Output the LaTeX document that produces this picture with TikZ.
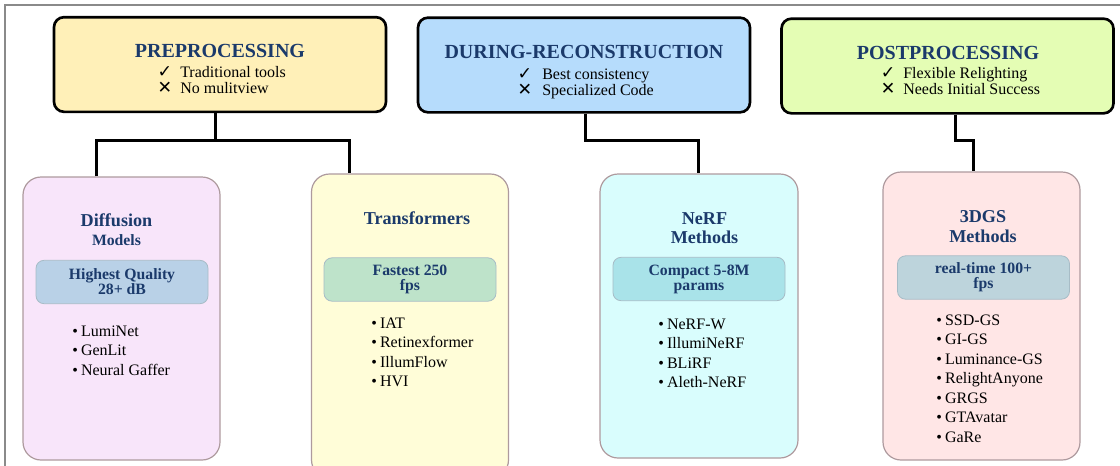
\documentclass[tikz,border=0pt]{standalone}
\usepackage{fontspec}
\setmainfont{Liberation Serif}
\newfontfamily\symfont{DejaVu Sans}
\definecolor{titleblue}{HTML}{1B3A6B}
\definecolor{preFill}{HTML}{FFF0B8}
\definecolor{durFill}{HTML}{B6DCFC}
\definecolor{postFill}{HTML}{E4FDB4}
\definecolor{diffFill}{HTML}{F8E5FA}
\definecolor{transFill}{HTML}{FFFDD8}
\definecolor{nerfFill}{HTML}{D9FDFD}
\definecolor{gsFill}{HTML}{FFE6E6}
\definecolor{diffTag}{HTML}{B9D1E7}
\definecolor{transTag}{HTML}{BEE3CA}
\definecolor{nerfTag}{HTML}{A9E3E9}
\definecolor{gsTag}{HTML}{BDD4DC}
\definecolor{cardEdge}{HTML}{AE9A9E}
\definecolor{tagEdge}{HTML}{A7BCC6}
\definecolor{frameGray}{HTML}{8A8A8A}
\tikzset{
  hdr/.style={draw=black, line width=2pt, rounded corners=7.5pt, minimum width=249pt, minimum height=71pt, inner sep=0pt},
  card/.style={draw=cardEdge, line width=0.9pt, rounded corners=13.5pt, minimum width=147.75pt, inner sep=0pt},
  tag/.style={draw=tagEdge, line width=0.6pt, rounded corners=6pt, minimum width=129pt, minimum height=32.5pt, inner sep=0pt, align=center, font=\fontsize{11.8}{11.3}\selectfont\bfseries, text=titleblue},
  hdrtitle/.style={anchor=base, inner sep=0pt, font=\fontsize{15}{15}\selectfont\bfseries, text=titleblue},
  cardtitle/.style={anchor=base, inner sep=0pt, font=\fontsize{13.6}{13.6}\selectfont\bfseries, text=titleblue},
  cardsub/.style={anchor=base, inner sep=0pt, font=\fontsize{11.8}{11.8}\selectfont\bfseries, text=titleblue},
  proline/.style={anchor=base west, inner sep=0pt, text height=8pt, text depth=2pt, font=\fontsize{12}{12}\selectfont},
  glyph/.style={anchor=base, inner sep=0pt, text height=8pt, text depth=0pt, font=\symfont\fontsize{13}{13}\selectfont},
  item/.style={anchor=base west, inner sep=0pt, font=\fontsize{12}{12}\selectfont},
  conn/.style={draw=black, line width=2.25pt}
}
\newcommand{\itm}[1]{\textbullet\hspace{2.4pt}#1}
\begin{document}
\begin{tikzpicture}[x=0.75pt, y=-0.75pt]
\useasboundingbox (0,0) rectangle (1120,465);
\clip (0,0) rectangle (1120,465);

% outer frame (top and left edges)
\draw[frameGray, line width=0.8pt] (5,470) -- (5,5) -- (1125,5);

% stage headers
\node[hdr, fill=preFill]  (pre)  at (220,64.5) {};
\node[hdr, fill=durFill]  (dur)  at (584,65)   {};
\node[hdr, fill=postFill] (post) at (947.5,66) {};

\node[hdrtitle] (preT)  at (220,57) {PREPROCESSING};
\node[glyph]    (preC)  at (165,77) {✓};
\node[proline]  (preP)  at (180,77) {Traditional tools};
\node[glyph]    (preX)  at (165,93) {✕};
\node[proline]  (preN)  at (180,93) {No mulitview};

\node[hdrtitle] (durT)  at (584,58) {DURING-RECONSTRUCTION};
\node[glyph]    (durC)  at (525,79.5) {✓};
\node[proline]  (durP)  at (542,79.5) {Best consistency};
\node[glyph]    (durX)  at (525,95) {✕};
\node[proline]  (durN)  at (542,95) {Specialized Code};

\node[hdrtitle] (postT) at (948,59) {POSTPROCESSING};
\node[glyph]    (postC) at (888,78.5) {✓};
\node[proline]  (postP) at (903,78.5) {Flexible Relighting};
\node[glyph]    (postX) at (888,94) {✕};
\node[proline]  (postN) at (903,94) {Needs Initial Success};

% method cards
\node[card, fill=diffFill,  minimum height=212.25pt] (diff)  at (121.5,318.5) {};
\node[card, fill=transFill, minimum height=228pt]    (trans) at (410,326)     {};
\node[card, fill=nerfFill,  minimum height=213pt, minimum width=148.5pt] (nerf) at (699,316) {};
\node[card, fill=gsFill,    minimum height=216pt]    (gs)    at (981.5,316)   {};

% card titles
\node[cardtitle] (diffT)  at (116.5,226) {Diffusion};
\node[cardsub]   (diffS)  at (116.5,245) {Models};
\node[cardtitle] (transT) at (417,224)   {Transformers};
\node[cardtitle] (nerfT)  at (704.5,224) {NeRF};
\node[cardtitle] (nerfS)  at (704.5,243) {Methods};
\node[cardtitle] (gsT)    at (983,222)   {3DGS};
\node[cardtitle] (gsS)    at (983,242)   {Methods};

% highlight tags
\node[tag, fill=diffTag]  (diffH)  at (122,282)    {Highest Quality\\28+ dB};
\node[tag, fill=transTag] (transH) at (410,279.5)  {Fastest 250\\fps};
\node[tag, fill=nerfTag]  (nerfH)  at (699,279)    {Compact 5-8M\\params};
\node[tag, fill=gsTag]    (gsH)    at (983.5,277.5){real-time 100+\\fps};

% method lists
\foreach \t [count=\i] in {LumiNet, GenLit, Neural Gaffer}
  \node[item] (diffL\i) at (72,316.5+19.5*\i) {\itm{\t}};
\foreach \t [count=\i] in {IAT, Retinexformer, IllumFlow, HVI}
  \node[item] (transL\i) at (371,308.4+19.6*\i) {\itm{\t}};
\foreach \t [count=\i] in {NeRF-W, IllumiNeRF, BLiRF, Aleth-NeRF}
  \node[item] (nerfL\i) at (658,309.4+19.6*\i) {\itm{\t}};
\foreach \t [count=\i] in {SSD-GS, GI-GS, Luminance-GS, RelightAnyone, GRGS, GTAvatar, GaRe}
  \node[item] (gsL\i) at (936,305.5+19.5*\i) {\itm{\t}};

% tree connectors
\coordinate (preJ)  at (215,140);
\coordinate (preL)  at (96,140);
\coordinate (preR)  at (349,140);
\coordinate (durJ)  at (585,140);
\coordinate (durR)  at (698,140);
\coordinate (postJ) at (955,140);
\coordinate (postR) at (973,140);

\draw[conn] (pre.south -| preJ) -- (preJ);
\draw[conn] (diff.north -| preL) -- (preL) -- (preR) -- (trans.north -| preR);
\draw[conn] (dur.south -| durJ) -- (durJ) -- (durR) -- (nerf.north -| durR);
\draw[conn] (post.south -| postJ) -- (postJ) -- (postR) -- (gs.north -| postR);
\end{tikzpicture}
\end{document}
